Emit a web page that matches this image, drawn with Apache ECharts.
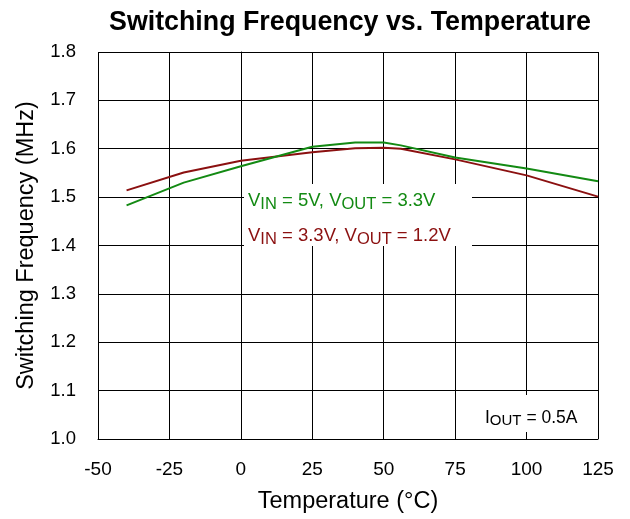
<!DOCTYPE html>
<html>
<head>
<meta charset="utf-8">
<script src="https://cdn.jsdelivr.net/npm/echarts@6/dist/echarts.min.js"></script>
<style>html,body{margin:0;padding:0;background:#fff;}#c{width:630px;height:519px;}</style>
</head>
<body>
<div id="c"></div>
<script>
var temps = [-40, -20, 0, 25, 40, 50, 56, 75, 100, 125];
var green5V = [1.483, 1.530, 1.564, 1.604, 1.613, 1.613, 1.607, 1.582, 1.559, 1.533];
var red33V = [1.514, 1.551, 1.575, 1.593, 1.601, 1.602, 1.600, 1.578, 1.545, 1.501];
var xTicks = [-50, -25, 0, 25, 50, 75, 100, 125];
var yTicks = [1.0, 1.1, 1.2, 1.3, 1.4, 1.5, 1.6, 1.7, 1.8];

function pairs(xs, ys){ return xs.map(function(x,i){ return [x, ys[i]]; }); }

var FONT = 'Liberation Sans, Arial, sans-serif';
var chart = echarts.init(document.getElementById('c'));
chart.setOption({
  animation: false,
  backgroundColor: '#fff',
  title: {
    text: 'Switching Frequency vs. Temperature',
    left: 345, top: 4, textAlign: 'center',
    textStyle: { fontFamily: FONT, fontSize: 26.8, fontWeight: 'bold', color: '#000' }
  },
  grid: { left: 98, right: 32, top: 52, bottom: 80 },
  xAxis: {
    type: 'value', min: xTicks[0], max: xTicks[xTicks.length-1], interval: 25,
    name: 'Temperature (°C)', nameLocation: 'middle', nameGap: 51,
    nameTextStyle: { fontFamily: FONT, fontSize: 23.5, color: '#000' },
    axisLine: { show: true, lineStyle: { color: '#000', width: 1 } },
    axisTick: { show: false },
    axisLabel: { fontFamily: FONT, fontSize: 19, color: '#000', margin: 21 },
    splitLine: { show: true, lineStyle: { color: '#000', width: 1 } }
  },
  yAxis: {
    type: 'value', min: yTicks[0], max: yTicks[yTicks.length-1], interval: 0.1,
    name: 'Switching Frequency (MHz)', nameLocation: 'middle', nameGap: 59,
    nameTextStyle: { fontFamily: FONT, fontSize: 23.5, color: '#000' },
    axisLine: { show: true, lineStyle: { color: '#000', width: 1 } },
    axisTick: { show: false },
    axisLabel: { fontFamily: FONT, fontSize: 18.5, color: '#000', margin: 22,
      formatter: function(v){ return v.toFixed(1); } },
    splitLine: { show: true, lineStyle: { color: '#000', width: 1 } }
  },
  series: [
    { type: 'line', data: pairs(temps, green5V), symbol: 'none', z: 3,
      lineStyle: { color: '#138a13', width: 2 } },
    { type: 'line', data: pairs(temps, red33V), symbol: 'none', z: 2,
      lineStyle: { color: '#8b1010', width: 2 } }
  ],
  graphic: [
    { type: 'rect', left: 244, top: 184, shape: { width: 228, height: 62 },
      style: { fill: '#fff' }, z: 10 },
    { type: 'text', left: 248, top: 191, z: 11,
      style: { text: 'V{s|IN} = 5V, V{s|OUT} = 3.3V', fill: '#138a13',
        font: '18.5px Liberation Sans, Arial, sans-serif',
        rich: { s: { fontSize: 16.5, fontFamily: FONT, fill: '#138a13', padding: [7,0,0,0] } } } },
    { type: 'text', left: 248, top: 226, z: 11,
      style: { text: 'V{s|IN} = 3.3V, V{s|OUT} = 1.2V', fill: '#8b1010',
        font: '18.5px Liberation Sans, Arial, sans-serif',
        rich: { s: { fontSize: 16.5, fontFamily: FONT, fill: '#8b1010', padding: [7,0,0,0] } } } },
    { type: 'rect', left: 470, top: 395, shape: { width: 127, height: 37 },
      style: { fill: '#fff' }, z: 10 },
    { type: 'text', left: 485, top: 409, z: 11,
      style: { text: 'I{s|OUT} = 0.5A', fill: '#000',
        font: '17.5px Liberation Sans, Arial, sans-serif',
        rich: { s: { fontSize: 15, fontFamily: FONT, fill: '#000', padding: [5,0,0,0] } } } }
  ]
});
</script>
</body>
</html>
